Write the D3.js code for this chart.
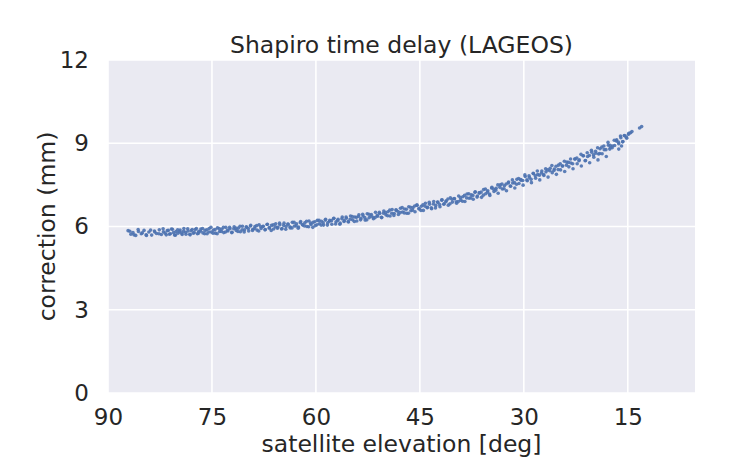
<!DOCTYPE html>
<html>
<head>
<meta charset="utf-8">
<script src="https://cdn.jsdelivr.net/npm/d3@7"></script>
<style>
  html, body { margin: 0; padding: 0; background: #ffffff; }
  svg { display: block; }
  text { font-family: "DejaVu Sans", sans-serif; fill: #262626; }
</style>
</head>
<body>
<svg id="chart" width="748" height="462"></svg>
<script>
const title = "Shapiro time delay (LAGEOS)";
const xLabel = "satellite elevation [deg]";
const yLabel = "correction (mm)";
const xTicks = [90, 75, 60, 45, 30, 15];
const yTicks = [0, 3, 6, 9, 12];

// satellite elevation [deg] of each observation
const elevation = [
  87.1, 86.7, 86.4, 86.0, 85.6, 85.2, 84.8, 84.5,
  84.1, 83.7, 83.3, 83.0, 82.6, 82.3, 82.0, 81.6, 81.3, 81.0,
  80.7, 80.4, 80.2, 79.9, 79.6, 79.3, 79.1, 78.8, 78.5, 78.2,
  78.0, 77.7, 77.4, 77.1, 76.9, 76.6, 76.3, 76.0, 75.7, 75.4,
  75.1, 74.8, 74.5, 74.2, 73.9, 73.6, 73.3, 73.0, 72.7, 72.4,
  72.1, 71.8, 71.5, 71.2, 70.9, 70.6, 70.3, 70.0, 69.7, 69.4,
  69.1, 68.8, 68.5, 68.2, 67.9, 67.6, 67.3, 67.0, 66.7, 66.4,
  66.1, 65.8, 65.5, 65.2, 64.9, 64.6, 64.3, 64.0, 63.7, 63.4,
  63.1, 62.8, 62.5, 62.2, 61.9, 61.6, 61.3, 61.0, 60.7, 60.4,
  60.1, 59.8, 59.5, 59.2, 58.9, 58.6, 58.3, 58.0, 57.7, 57.4,
  57.1, 56.8, 56.5, 56.2, 55.9, 55.6, 55.3, 55.0, 54.7, 54.4,
  54.1, 53.8, 53.5, 53.2, 52.9, 52.6, 52.3, 52.0, 51.7, 51.4,
  51.1, 50.8, 50.5, 50.2, 49.9, 49.6, 49.3, 49.0, 48.7, 48.4,
  48.1, 47.8, 47.5, 47.2, 46.9, 46.6, 46.3, 46.0, 45.7, 45.4,
  45.1, 44.8, 44.5, 44.2, 43.9, 43.6, 43.3, 43.0, 42.7, 42.4,
  42.1, 41.8, 41.5, 41.2, 40.9, 40.6, 40.3, 40.0, 39.7, 39.4,
  39.1, 38.8, 38.5, 38.2, 37.9, 37.6, 37.3, 37.0, 36.7, 36.4,
  36.1, 35.8, 35.5, 35.2, 34.9, 34.6, 34.3, 34.0, 33.7, 33.4,
  33.1, 32.8, 32.5, 32.2, 31.9, 31.6, 31.3, 31.0, 30.7, 30.4,
  30.1, 29.8, 29.5, 29.2, 28.9, 28.6, 28.3, 28.0, 27.7, 27.4,
  27.1, 26.8, 26.5, 26.2, 25.9, 25.6, 25.3, 25.0, 24.7, 24.4,
  24.1, 23.8, 23.5, 23.2, 22.9, 22.6, 22.3, 22.0, 21.7, 21.4,
  21.1, 20.8, 20.5, 20.2, 19.9, 19.6, 19.3, 19.0, 18.7, 18.4,
  18.1, 17.8, 17.5, 17.2, 16.9, 16.6, 16.3, 16.0, 15.7, 15.5,
  15.2, 14.9, 14.6, 14.4, 13.3, 13.0,
  19.2, 17.6, 16.3, 15.9,
  86.85, 86.25, 85.65, 85.05, 84.45, 83.85, 83.25, 82.65, 82.05, 81.75,
  81.45, 81.15, 80.85, 80.55, 80.25, 79.95, 79.65, 79.35, 79.05, 78.75,
  78.45, 78.15, 77.85, 77.55, 77.25, 76.95, 76.65, 76.35, 76.05, 75.75,
  75.45, 75.15, 74.85, 74.55, 74.25, 73.95, 73.65, 73.35, 73.05, 72.75,
  72.45, 72.15, 71.85, 71.55, 71.25, 70.95, 70.65, 70.35, 70.05, 69.75,
  69.45, 69.15, 68.85, 68.55, 68.25, 67.95, 67.65, 67.35, 67.05, 66.75,
  66.45, 66.15, 65.85, 65.55, 65.25, 64.95, 64.65, 64.35, 64.05, 63.75,
  63.45, 63.15, 62.85, 62.55, 62.25, 61.95, 61.65, 61.35, 61.05, 60.75,
  60.45, 60.15, 59.85, 59.55, 59.25, 58.95, 58.65, 58.35, 58.05, 57.75,
  57.45, 57.15, 56.85, 56.55, 56.25, 55.95, 55.65, 55.35, 55.05, 54.75,
  54.45, 54.15, 53.85, 53.55, 53.25, 52.95, 52.65, 52.35, 52.05, 51.75,
  51.45, 51.15, 50.85, 50.55, 50.25, 49.95, 49.65, 49.35, 49.05, 48.75,
  48.45, 48.15, 47.85, 47.55, 47.25, 46.95, 46.65, 46.35, 46.05, 45.75,
  45.45, 45.15, 44.85, 44.55, 44.25, 43.95, 43.65, 43.35, 43.05, 42.75,
  42.45, 42.15, 41.85, 41.55, 41.25, 40.95, 40.65, 40.35, 40.05, 39.75,
  39.45, 39.15, 38.85, 38.55, 38.25, 37.95, 37.65, 37.35, 37.05, 36.75,
  36.45, 36.15, 35.85, 35.55, 35.25, 34.95, 34.65, 34.35, 34.05, 33.75,
  33.45, 33.15, 32.85, 32.55, 32.25, 31.95, 31.65, 31.35, 31.05, 30.75,
  30.45, 30.15, 29.85, 29.55, 29.25, 28.95, 28.65, 28.35, 28.05, 27.75,
  27.45, 27.15, 26.85, 26.55, 26.25, 25.95, 25.65, 25.35, 25.05, 24.75,
  24.45, 24.15, 23.85, 23.55, 23.25, 22.95, 22.65, 22.35, 22.05, 21.75,
  21.45, 21.15, 20.85, 20.55, 20.25, 19.95, 19.65, 19.35, 19.05, 18.75,
  18.45, 18.15, 17.85, 17.55, 17.25, 16.95, 16.65, 16.35, 16.05, 15.75,
  15.45, 15.15, 14.85
];

// Shapiro correction [mm] of each observation (same order)
const correction = [
  5.85, 5.72, 5.78, 5.68, 5.82, 5.74, 5.86, 5.70,
  5.80, 5.69, 5.84, 5.75, 5.88, 5.71, 5.81, 5.70, 5.86, 5.74,
  5.90, 5.69, 5.82, 5.76, 5.87, 5.71, 5.83, 5.79, 5.92, 5.72,
  5.85, 5.76, 5.89, 5.74, 5.83, 5.91, 5.77, 5.86, 5.74, 5.93,
  5.80, 5.87, 5.76, 5.95, 5.82, 5.90, 5.78, 5.97, 5.84, 5.92,
  5.79, 5.99, 5.86, 5.94, 5.81, 6.01, 5.88, 5.97, 5.84, 6.04,
  5.90, 6.00, 5.87, 6.06, 5.93, 6.01, 5.89, 6.08, 5.95, 6.04,
  5.91, 6.10, 5.97, 6.06, 5.93, 6.12, 6.00, 6.08, 5.95, 6.15,
  6.02, 6.10, 5.98, 6.18, 6.05, 6.13, 6.00, 6.20, 6.07, 6.15,
  6.03, 6.22, 6.10, 6.19, 6.05, 6.26, 6.13, 6.22, 6.08, 6.30,
  6.17, 6.26, 6.12, 6.34, 6.21, 6.30, 6.16, 6.38, 6.24, 6.34,
  6.20, 6.42, 6.29, 6.38, 6.23, 6.46, 6.32, 6.43, 6.28, 6.51,
  6.37, 6.47, 6.32, 6.56, 6.42, 6.53, 6.38, 6.61, 6.47, 6.58,
  6.43, 6.66, 6.52, 6.63, 6.48, 6.71, 6.57, 6.68, 6.53, 6.77,
  6.63, 6.73, 6.58, 6.84, 6.69, 6.80, 6.64, 6.90, 6.76, 6.87,
  6.71, 6.96, 6.82, 6.93, 6.77, 7.03, 6.88, 7.00, 6.84, 7.10,
  6.95, 7.07, 6.90, 7.17, 7.02, 7.14, 6.98, 7.25, 7.10, 7.21,
  7.05, 7.33, 7.18, 7.29, 7.12, 7.41, 7.26, 7.38, 7.20, 7.50,
  7.35, 7.47, 7.29, 7.60, 7.45, 7.57, 7.39, 7.70, 7.55, 7.67,
  7.49, 7.80, 7.65, 7.77, 7.58, 7.90, 7.74, 7.87, 7.68, 8.00,
  7.84, 7.97, 7.78, 8.10, 7.94, 8.07, 7.88, 8.21, 8.04, 8.18,
  7.98, 8.32, 8.15, 8.29, 8.08, 8.43, 8.26, 8.40, 8.18, 8.55,
  8.38, 8.52, 8.30, 8.68, 8.50, 8.64, 8.40, 8.80, 8.62, 8.77,
  8.52, 8.93, 8.84, 8.90, 8.92, 9.12, 8.98, 9.20, 9.06, 9.28,
  9.22, 9.32, 9.38, 9.42, 9.55, 9.60,
  8.61, 8.79, 8.79, 8.90,
  5.83, 5.70, 5.89, 5.77, 5.68, 5.87, 5.80, 5.74, 5.92, 5.76,
  5.85, 5.72, 5.91, 5.78, 5.69, 5.88, 5.81, 5.76, 5.93, 5.72,
  5.84, 5.70, 5.89, 5.78, 5.93, 5.76, 5.83, 5.93, 5.74, 5.88,
  5.80, 5.97, 5.76, 5.89, 5.74, 5.93, 5.82, 5.97, 5.80, 5.87,
  5.97, 5.78, 5.92, 5.94, 5.82, 6.01, 5.88, 5.80, 5.99, 5.93,
  6.02, 5.86, 5.93, 6.03, 5.84, 5.99, 6.00, 5.88, 6.07, 5.95,
  5.86, 6.06, 5.99, 5.94, 6.12, 5.91, 6.04, 5.90, 6.09, 5.99,
  5.95, 6.15, 6.02, 5.94, 6.14, 6.07, 6.02, 6.19, 5.99, 6.12,
  5.97, 6.17, 6.06, 6.22, 6.05, 6.13, 6.23, 6.05, 6.19, 6.21,
  6.29, 6.09, 6.22, 6.08, 6.28, 6.18, 6.34, 6.18, 6.26, 6.36,
  6.18, 6.33, 6.36, 6.24, 6.44, 6.32, 6.24, 6.44, 6.38, 6.33,
  6.32, 6.40, 6.51, 6.33, 6.48, 6.50, 6.39, 6.59, 6.48, 6.40,
  6.60, 6.54, 6.50, 6.68, 6.49, 6.62, 6.48, 6.69, 6.59, 6.74,
  6.77, 6.65, 6.58, 6.78, 6.73, 6.68, 6.87, 6.67, 6.81, 6.67,
  6.88, 6.79, 6.95, 6.80, 6.89, 6.99, 6.82, 6.98, 7.01, 6.89,
  6.90, 7.04, 6.91, 7.12, 7.03, 7.18, 7.03, 7.12, 7.23, 7.06,
  7.21, 7.24, 7.13, 7.35, 7.24, 7.17, 7.39, 7.34, 7.31, 7.50,
  7.41, 7.53, 7.36, 7.53, 7.57, 7.46, 7.68, 7.58, 7.52, 7.73,
  7.69, 7.66, 7.86, 7.68, 7.83, 7.70, 7.92, 7.83, 8.00, 7.85,
  7.93, 7.87, 8.08, 8.04, 8.01, 8.20, 8.02, 8.17, 8.05, 8.26,
  8.18, 8.35, 8.21, 8.31, 8.43, 8.26, 8.43, 8.47, 8.37, 8.60,
  8.55, 8.37, 8.66, 8.56, 8.75, 8.58, 8.71, 8.84, 8.63, 8.86,
  8.90, 8.77, 9.03, 8.93, 8.84, 9.11, 9.08, 9.04, 9.26, 9.05,
  9.27, 9.18, 9.36
];

const W = 748, H = 462;
const plot = { left: 108, right: 695, top: 60, bottom: 393 };

const svg = d3.select("#chart");

const x = d3.scaleLinear().domain([90, 5.3]).range([plot.left, plot.right]);
const y = d3.scaleLinear().domain([0, 12]).range([plot.bottom, plot.top]);

// axes background
svg.append("rect")
  .attr("x", plot.left).attr("y", plot.top)
  .attr("width", plot.right - plot.left)
  .attr("height", plot.bottom - plot.top)
  .attr("fill", "#EAEAF2");

// grid
const grid = svg.append("g");
grid.selectAll("line.vx").data(xTicks).join("line")
  .attr("x1", d => x(d)).attr("x2", d => x(d))
  .attr("y1", plot.top).attr("y2", plot.bottom)
  .attr("stroke", "#ffffff").attr("stroke-width", 1.6);
grid.selectAll("line.hy").data(yTicks).join("line")
  .attr("x1", plot.left).attr("x2", plot.right)
  .attr("y1", d => y(d)).attr("y2", d => y(d))
  .attr("stroke", "#ffffff").attr("stroke-width", 1.6);

// points
const pts = elevation.map((e, i) => ({ e, c: correction[i] }));
svg.append("g").selectAll("circle").data(pts).join("circle")
  .attr("cx", d => x(d.e))
  .attr("cy", d => y(d.c))
  .attr("r", 1.8)
  .attr("fill", "#4C72B0")
  .attr("fill-opacity", 0.9);

// axes
const xAxis = svg.append("g")
  .attr("transform", `translate(0,${plot.bottom})`)
  .call(d3.axisBottom(x).tickValues(xTicks).tickFormat(d3.format("d")).tickSize(0).tickPadding(16));
const yAxis = svg.append("g")
  .attr("transform", `translate(${plot.left},0)`)
  .call(d3.axisLeft(y).tickValues(yTicks).tickFormat(d3.format("d")).tickSize(0).tickPadding(19));
[xAxis, yAxis].forEach(a => {
  a.select(".domain").remove();
  a.selectAll("text")
    .style("font-family", '"DejaVu Sans", sans-serif')
    .style("font-size", "23px")
    .attr("fill", "#262626");
});

// title and labels
svg.append("text")
  .attr("x", (plot.left + plot.right) / 2).attr("y", 53)
  .attr("text-anchor", "middle")
  .style("font-size", "23.5px")
  .text(title);
svg.append("text")
  .attr("x", (plot.left + plot.right) / 2).attr("y", 452)
  .attr("text-anchor", "middle")
  .style("font-size", "23.5px")
  .text(xLabel);
svg.append("text")
  .attr("transform", `translate(55,${(plot.top + plot.bottom) / 2}) rotate(-90)`)
  .attr("text-anchor", "middle")
  .style("font-size", "23.5px")
  .text(yLabel);
</script>
</body>
</html>
